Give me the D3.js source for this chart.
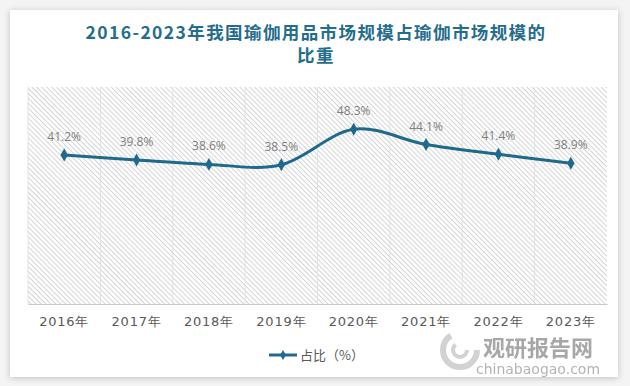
<!DOCTYPE html>
<html>
<head>
<meta charset="utf-8">
<script src="https://cdn.jsdelivr.net/npm/d3@7"></script>
<style>
  html, body { margin: 0; padding: 0; background: #f4f4f4; }
  #chart { width: 630px; height: 386px; }
</style>
</head>
<body>
<div id="chart"></div>
<script>
// data
const years = ["2016年", "2017年", "2018年", "2019年", "2020年", "2021年", "2022年", "2023年"];
const share = [41.2, 39.8, 38.6, 38.5, 48.3, 44.1, 41.4, 38.9];
const yDomain = [0, 60];

const W = 630, H = 386;
const plot = { left: 28, right: 607, top: 87, bottom: 304 };
const lineColor = "#1f6a8c";

const svg = d3.select("#chart").append("svg")
    .attr("width", W)
    .attr("height", H);

const defs = svg.append("defs");

// card shadow
const shadow = defs.append("filter").attr("id", "shadow")
    .attr("x", "-5%").attr("y", "-5%").attr("width", "110%").attr("height", "110%");
shadow.append("feDropShadow")
    .attr("dx", 0).attr("dy", 1)
    .attr("stdDeviation", 3)
    .attr("flood-color", "#000")
    .attr("flood-opacity", 0.22);

// diagonal hatch for the plot area
const hatch = defs.append("pattern")
    .attr("id", "hatch")
    .attr("patternUnits", "userSpaceOnUse")
    .attr("width", 3.5).attr("height", 3.5)
    .attr("patternTransform", "rotate(45)");
hatch.append("rect").attr("width", 3.5).attr("height", 3.5).attr("fill", "#fff");
hatch.append("line")
    .attr("x1", 0).attr("y1", 0.5).attr("x2", 3.5).attr("y2", 0.5)
    .attr("stroke", "#d4d4d4").attr("stroke-width", 1);

// white card
svg.append("rect")
    .attr("x", 10).attr("y", 10)
    .attr("width", 608).attr("height", 367)
    .attr("fill", "#fff")
    .attr("filter", "url(#shadow)");

// title
const title = svg.append("text")
    .attr("text-anchor", "middle")
    .attr("font-family", "'Noto Sans CJK SC', sans-serif")
    .attr("font-weight", "bold")
    .attr("font-size", 17.5)
    .attr("letter-spacing", 1.4)
    .attr("fill", "#246d8d");
title.append("tspan").attr("x", 316).attr("y", 39).text("2016-2023年我国瑜伽用品市场规模占瑜伽市场规模的");
title.append("tspan").attr("x", 316).attr("y", 62).text("比重");

// scales
const x = d3.scaleBand().domain(years).range([plot.left, plot.right]);
const y = d3.scaleLinear().domain(yDomain).range([plot.bottom, plot.top]);

// plot background
svg.append("rect")
    .attr("x", plot.left).attr("y", plot.top)
    .attr("width", plot.right - plot.left)
    .attr("height", plot.bottom - plot.top)
    .attr("fill", "url(#hatch)");

// vertical category gridlines
svg.append("g")
    .selectAll("line")
    .data(years)
    .join("line")
    .attr("x1", d => x(d)).attr("x2", d => x(d))
    .attr("y1", plot.top).attr("y2", plot.bottom)
    .attr("stroke", "#e2e2e2")
    .attr("stroke-width", 1);

// x axis
const xAxis = svg.append("g")
    .attr("transform", `translate(0,${plot.bottom})`)
    .call(d3.axisBottom(x).tickSize(0).tickPadding(13));
xAxis.select(".domain").attr("stroke", "#c8c8c8");
xAxis.selectAll("text")
    .attr("font-family", "'DejaVu Sans', sans-serif")
    .attr("font-size", 13)
    .attr("letter-spacing", 0.8)
    .attr("fill", "#595959");

// line
const pts = years.map((d, i) => [x(d) + x.bandwidth() / 2, y(share[i])]);
svg.append("path")
    .datum(pts)
    .attr("fill", "none")
    .attr("stroke", lineColor)
    .attr("stroke-width", 3)
    .attr("d", d3.line().curve(d3.curveCardinal.tension(0)));

// markers
const diamond = d3.symbol().type(d3.symbolDiamond).size(48);
svg.append("g")
    .selectAll("path")
    .data(pts)
    .join("path")
    .attr("transform", d => `translate(${d[0]},${d[1]})`)
    .attr("d", diamond)
    .attr("fill", lineColor);

// value labels
svg.append("g")
    .selectAll("text")
    .data(share)
    .join("text")
    .attr("x", (d, i) => x(years[i]) + x.bandwidth() / 2)
    .attr("y", d => y(d) - 14)
    .attr("text-anchor", "middle")
    .attr("font-family", "'Open Sans', sans-serif")
    .attr("font-size", 12)
    .attr("fill", "#7f7f7f")
    .text(d => d.toFixed(1) + "%");

// legend
const legend = svg.append("g").attr("transform", "translate(269,355)");
legend.append("line")
    .attr("x1", 0).attr("x2", 28)
    .attr("stroke", lineColor).attr("stroke-width", 3);
legend.append("path")
    .attr("transform", "translate(14,0)")
    .attr("d", d3.symbol().type(d3.symbolDiamond).size(30))
    .attr("fill", lineColor);
legend.append("text")
    .attr("x", 31).attr("y", 5)
    .attr("font-family", "'Noto Sans CJK SC', sans-serif")
    .attr("font-size", 13)
    .attr("fill", "#595959")
    .text("占比（%）");

// watermark
const wm = svg.append("g").attr("opacity", 0.75);
wm.append("circle").attr("cx", 460).attr("cy", 350).attr("r", 17)
    .attr("fill", "none").attr("stroke", "#c4c4c4").attr("stroke-width", 6)
    .attr("stroke-dasharray", "70 37");
wm.append("circle").attr("cx", 460).attr("cy", 350).attr("r", 7)
    .attr("fill", "none").attr("stroke", "#c4c4c4").attr("stroke-width", 4)
    .attr("stroke-dasharray", "28 16");
wm.append("text")
    .attr("x", 538).attr("y", 356)
    .attr("text-anchor", "middle")
    .attr("font-family", "'Noto Sans CJK SC', sans-serif")
    .attr("font-weight", "bold")
    .attr("font-size", 22)
    .attr("fill", "#8a8a8a")
    .text("观研报告网");
wm.append("text")
    .attr("x", 538).attr("y", 374)
    .attr("text-anchor", "middle")
    .attr("font-family", "'DejaVu Sans', sans-serif")
    .attr("font-size", 14)
    .attr("fill", "#9a9a9a")
    .text("chinabaogao.com");
</script>
</body>
</html>
